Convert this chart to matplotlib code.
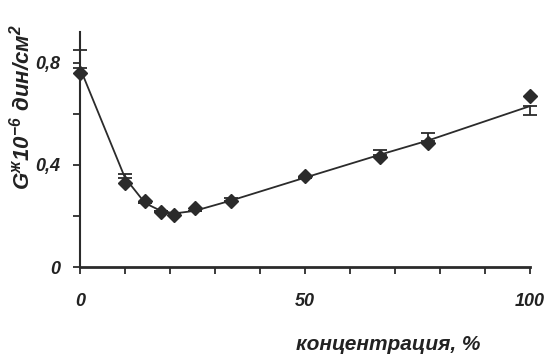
import matplotlib
matplotlib.use("Agg")
import matplotlib.pyplot as plt
from matplotlib.ticker import MultipleLocator, FixedFormatter, FixedLocator

# measured points (markers)
conc = [0, 10, 14.5, 18, 21, 25.5, 33.5, 50, 66.7, 77.3, 100]
g_val = [0.76, 0.33, 0.26, 0.215, 0.205, 0.23, 0.26, 0.355, 0.43, 0.485, 0.67]
# averaged curve with error bars
line_val = [0.78, 0.35, 0.25, 0.22, 0.21, 0.22, 0.26, 0.35, 0.44, 0.495, 0.63]
err_up = [0.07, 0.015, 0.0, 0.0, 0.0, 0.0, 0.01, 0.0, 0.02, 0.03, 0.0]
err_dn = [0.0, 0.0, 0.0, 0.0, 0.0, 0.0, 0.0, 0.0, 0.0, 0.0, 0.035]

y_ticks = [0, 0.4, 0.8]
y_labels = ["0", "0,4", "0,8"]
x_ticks = [0, 50, 100]
x_labels = ["0", "50", "100"]


def main():
  bold_it = "Liberation Sans:italic:bold"
  plt.rcParams.update({
    "font.family": ["Liberation Sans", "DejaVu Sans"],
    "font.style": "italic",
    "font.weight": "bold",
    "mathtext.fontset": "custom",
    "mathtext.rm": bold_it,
    "mathtext.it": bold_it,
    "mathtext.bf": bold_it,
    "mathtext.bfit": bold_it,
    "mathtext.sf": bold_it,
  })
  ink = "#2b2b2b"

  fig = plt.figure(figsize=(5.51, 3.59), dpi=100)
  ax = fig.add_axes([0.145, 0.256, 0.817, 0.655])

  ax.errorbar(conc, line_val, yerr=[err_dn, err_up], color=ink, linewidth=1.3,
              capsize=5, capthick=1.3, elinewidth=1.3, clip_on=False, zorder=2)
  ax.plot(conc, g_val, "D", color=ink, markersize=7, clip_on=False, zorder=3)

  ax.set_xlim(0, 100)
  ax.set_ylim(0, 0.92)

  ax.spines["top"].set_visible(False)
  ax.spines["right"].set_visible(False)
  ax.spines["left"].set_linewidth(1.5)
  ax.spines["bottom"].set_linewidth(2.0)
  ax.spines["left"].set_color(ink)
  ax.spines["bottom"].set_color(ink)

  ax.xaxis.set_major_locator(FixedLocator(x_ticks))
  ax.xaxis.set_major_formatter(FixedFormatter(x_labels))
  ax.xaxis.set_minor_locator(MultipleLocator(10))
  ax.yaxis.set_major_locator(FixedLocator(y_ticks))
  ax.yaxis.set_major_formatter(FixedFormatter(y_labels))
  ax.yaxis.set_minor_locator(MultipleLocator(0.2))
  ax.tick_params(which="both", direction="out", length=5, width=1.3, color=ink,
                 labelsize=13, labelcolor="#222222")
  ax.tick_params(axis="x", pad=14)
  ax.tick_params(axis="y", pad=9)

  ax.set_ylabel(r"$\mathbf{G^{ж}10^{-6}\ дин/см^{2}}$", fontsize=16,
                color="#222222")
  ax.yaxis.set_label_coords(-0.10, 0.68)
  fig.text(0.705, 0.04, "концентрация, %", fontsize=15, color="#222222",
           ha="center", va="center")

  fig.savefig("out.png", dpi=100)


if __name__ == "__main__":
  main()
